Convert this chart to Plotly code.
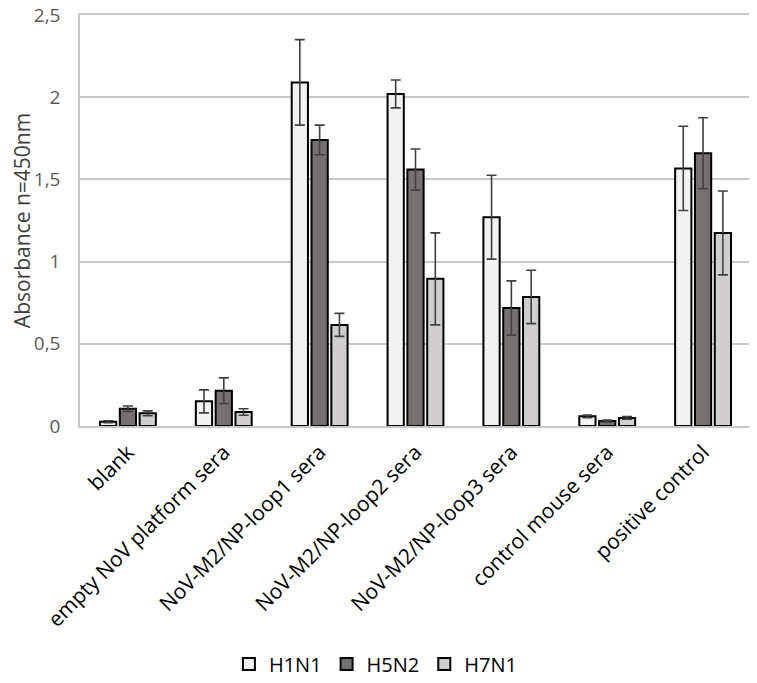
import plotly.graph_objects as go

categories = ["blank", "empty NoV platform sera", "NoV-M2/NP-loop1 sera",
              "NoV-M2/NP-loop2 sera", "NoV-M2/NP-loop3 sera",
              "control mouse sera", "positive control"]
h1n1 = [0.026, 0.15, 2.09, 2.02, 1.27, 0.059, 1.567]
h1n1_err = [0.006, 0.07, 0.26, 0.085, 0.255, 0.008, 0.256]
h5n2 = [0.105, 0.215, 1.74, 1.56, 0.718, 0.03, 1.659]
h5n2_err = [0.017, 0.078, 0.09, 0.125, 0.165, 0.006, 0.216]
h7n1 = [0.077, 0.085, 0.615, 0.895, 0.785, 0.049, 1.174]
h7n1_err = [0.015, 0.02, 0.07, 0.28, 0.162, 0.008, 0.255]
y_ticks = [0, 0.5, 1, 1.5, 2, 2.5]

series = [("H1N1", h1n1, h1n1_err, "#f2f2f2"),
          ("H5N2", h5n2, h5n2_err, "#767171"),
          ("H7N1", h7n1, h7n1_err, "#d0cece")]

fig = go.Figure()
for name, vals, errs, color in series:
    fig.add_trace(go.Bar(
        name=name, x=categories, y=vals,
        marker=dict(color=color, line=dict(color="#000000", width=2)),
        error_y=dict(type="data", array=errs, visible=True,
                     color="#404040", thickness=1.6, width=5),
    ))

fig.update_layout(
    width=757, height=683,
    margin=dict(l=72, r=14, t=7, b=265, autoexpand=False),
    paper_bgcolor="white", plot_bgcolor="white",
    separators=", ",
    barmode="group", bargap=0.38, bargroupgap=0.18,
    font=dict(family="Open Sans", color="#000000"),
    showlegend=True,
    legend=dict(orientation="h", x=0.441, xanchor="center", y=-0.579,
                yanchor="middle", font=dict(size=20, color="#000000"),
                itemwidth=30, traceorder="normal"),
    xaxis=dict(tickangle=-45, tickfont=dict(size=21, color="#000000"),
               showline=True, linecolor="#c8c8c8", linewidth=1.5, mirror=True,
               ticks="", showgrid=False, ticklabelstandoff=4),
    yaxis=dict(range=[0, 2.5], tickvals=y_ticks,
               tickfont=dict(size=19, color="#595959"),
               ticklabelstandoff=14, ticklabeloverflow="allow",
               title=dict(text="Absorbance n=450nm",
                          font=dict(size=21, color="#404040"), standoff=3),
               showgrid=True, gridcolor="#c8c8c8", gridwidth=1.5,
               showline=True, linecolor="#c8c8c8", linewidth=1.5, mirror=True,
               ticks="", zeroline=False),
)

fig.write_html("out.html")
